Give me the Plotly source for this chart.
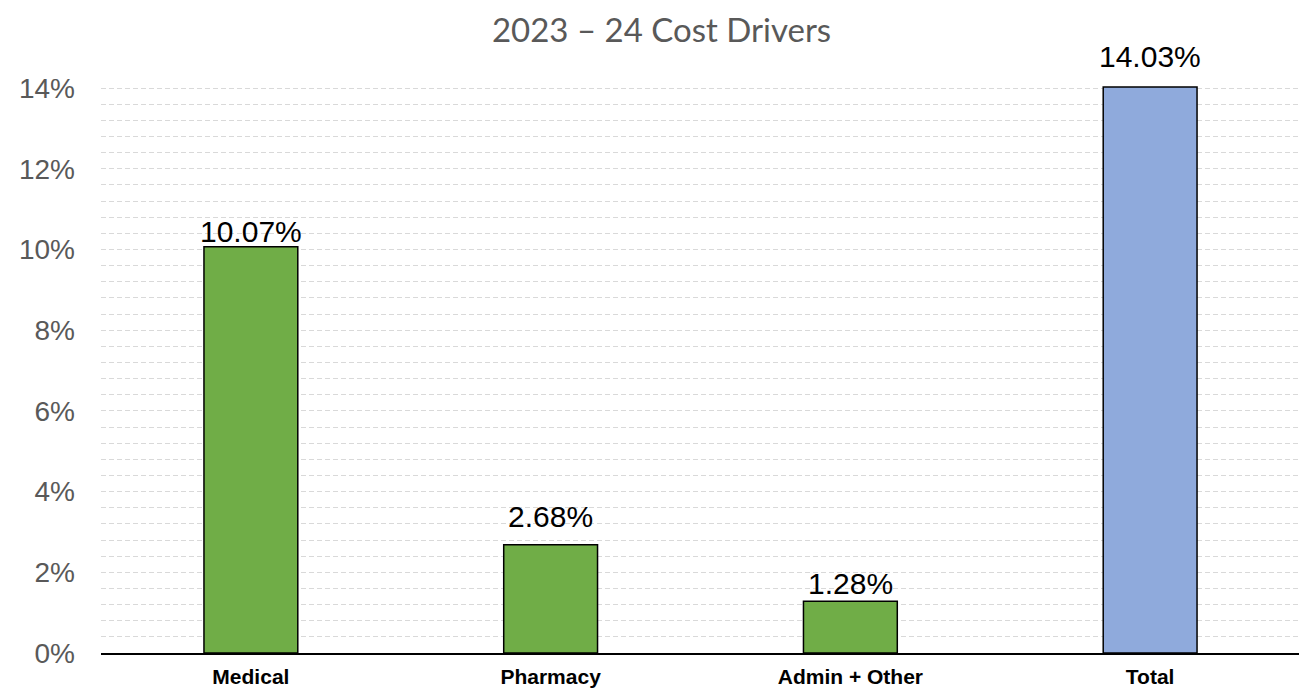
import plotly.graph_objects as go

categories = ["Medical", "Pharmacy", "Admin + Other", "Total"]
values = [0.1007, 0.0268, 0.0128, 0.1403]
labels = ["10.07%", "2.68%", "1.28%", "14.03%"]
colors = ["#70AD47", "#70AD47", "#70AD47", "#8FAADC"]

# label vertical offsets (px) above bar tops, as placed in the original
label_offsets = [-3, 10, -1, 12]

fig = go.Figure(go.Bar(
    x=categories, y=values,
    marker=dict(color=colors, line=dict(color="#000000", width=1.5)),
    width=0.313, cliponaxis=False,
))

for c, v, t, off in zip(categories, values, labels, label_offsets):
    fig.add_annotation(x=c, y=v, text=t, showarrow=False, yanchor="bottom", yshift=off,
                       font=dict(size=30, color="#000000", family="Liberation Sans, Arial"))

fig.update_layout(
    width=1307, height=690,
    margin=dict(l=93, r=15, t=64, b=45, autoexpand=False),
    plot_bgcolor="white", paper_bgcolor="white",
    title=dict(text="2023 – 24 Cost Drivers", x=0.5, xanchor="center", y=0.968, yanchor="middle",
               font=dict(size=33, color="#595959", family="Lato, Liberation Sans")),
    showlegend=False,
    xaxis=dict(showline=True, linecolor="#000000", linewidth=1.5, ticks="", automargin=False,
               tickfont=dict(size=21, color="#000000", family="Liberation Sans, Arial", weight="bold"),
               showgrid=False, ticklabelstandoff=4),
    yaxis=dict(range=[0, 0.144], dtick=0.02, tickformat=".0%", showline=False, zeroline=False,
               automargin=False,
               tickfont=dict(size=28, color="#595959", family="Liberation Sans, Arial"),
               showgrid=True, gridcolor="#D9D9D9", griddash="5px,3px", gridwidth=1,
               ticklabelstandoff=25,
               minor=dict(dtick=0.004, showgrid=True, gridcolor="#D9D9D9", griddash="5px,3px", gridwidth=1)),
)

fig.write_html("out.html")
